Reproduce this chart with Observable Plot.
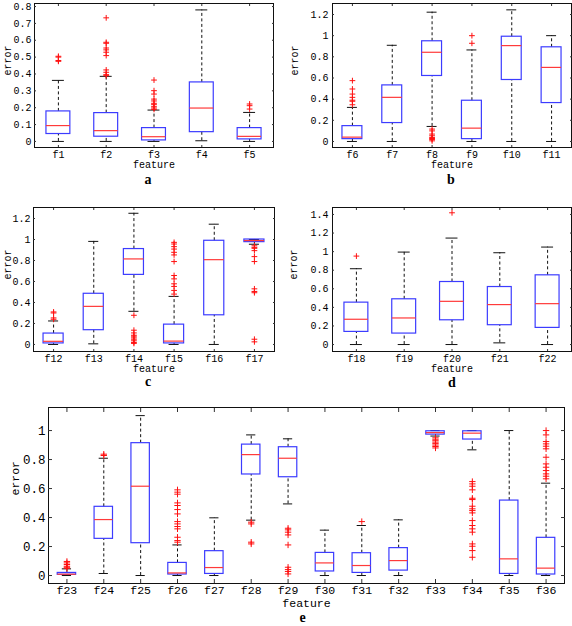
<!DOCTYPE html>
<html><head><meta charset="utf-8">
<script src="https://cdn.jsdelivr.net/npm/d3@7"></script>
<script src="https://cdn.jsdelivr.net/npm/@observablehq/plot@0.6"></script>
<style>
body{margin:0;background:#fff}
#c{position:relative;width:572px;height:626px;background:#fff;overflow:hidden}
#c svg{position:absolute}
</style></head><body><div id="c"></div>
<script>
// ---- Panel a ----
const namesA = ["f1","f2","f3","f4","f5"];
const loA  = [0, 0, 0, 0.004, 0];
const q1A  = [0.044, 0.028, 0.006, 0.055, 0.012];
const medA = [0.094, 0.064, 0.028, 0.198, 0.03];
const q3A  = [0.178, 0.168, 0.079, 0.35, 0.079];
const hiA  = [0.362, 0.386, 0.186, 0.78, 0.172];
const outA = [[0.475,0.48,0.50,0.505],[0.39,0.396,0.41,0.424,0.509,0.529,0.543,0.554,0.582,0.588,0.733],[0.19,0.198,0.206,0.218,0.226,0.24,0.251,0.281,0.301,0.364],[],[0.192,0.212,0.222]];
const ticksA = [0,0.1,0.2,0.3,0.4,0.5,0.6,0.7,0.8];

// ---- Panel b ----
const namesB = ["f6","f7","f8","f9","f10","f11"];
const loB  = [0, 0, 0.142, 0, 0, 0];
const q1B  = [0.022, 0.174, 0.619, 0.022, 0.581, 0.363];
const medB = [0.041, 0.417, 0.843, 0.126, 0.906, 0.70];
const q3B  = [0.145, 0.53, 0.947, 0.385, 0.99, 0.89];
const hiB  = [0.322, 0.909, 1.222, 0.865, 1.244, 1.0];
const outB = [[0.347,0.38,0.39,0.417,0.448,0.496,0.575],[],[0.006,0.019,0.028,0.038,0.054,0.07,0.10,0.117],[0.928,1.0],[],[]];
const ticksB = [0,0.2,0.4,0.6,0.8,1,1.2];

// ---- Panel c ----
const namesC = ["f12","f13","f14","f15","f16","f17"];
const loC  = [0, 0.006, 0.316, 0, 0, 0.955];
const q1C  = [0.01, 0.136, 0.663, 0.01, 0.278, 0.975];
const medC = [0.03, 0.363, 0.815, 0.032, 0.808, 0.99];
const q3C  = [0.104, 0.483, 0.909, 0.189, 0.988, 1.0];
const hiC  = [0.224, 0.982, 1.25, 0.458, 1.146, 1.0];
const outC = [[0.24,0.253,0.30,0.31],[],[0.01,0.019,0.035,0.05,0.063,0.079,0.088,0.11,0.136,0.278],[0.48,0.515,0.553,0.578,0.625,0.657,0.79,0.853,0.878,0.909,0.932,0.957,0.973],[],[0.025,0.05,0.493,0.505,0.53,0.79,0.837,0.894,0.916,0.925,0.94]];
const ticksC = [0,0.2,0.4,0.6,0.8,1,1.2];

// ---- Panel d ----
const namesD = ["f18","f19","f20","f21","f22"];
const loD  = [0, 0, 0, 0.018, 0];
const q1D  = [0.136, 0.118, 0.261, 0.208, 0.179];
const medD = [0.272, 0.286, 0.465, 0.43, 0.44];
const q3D  = [0.451, 0.487, 0.673, 0.619, 0.745];
const hiD  = [0.816, 0.995, 1.146, 0.988, 1.049];
const outD = [[0.952],[],[1.418],[],[]];
const ticksD = [0,0.2,0.4,0.6,0.8,1,1.2,1.4];

// ---- Panel e ----
const namesE = ["f23","f24","f25","f26","f27","f28","f29","f30","f31","f32","f33","f34","f35","f36"];
const loE  = [0, 0.014, 0, 0, 0, 0.382, 0.494, 0, 0, 0, 0.962, 0.867, 0, 0];
const q1E  = [0.005, 0.253, 0.223, 0.007, 0.011, 0.697, 0.678, 0.028, 0.018, 0.034, 0.972, 0.938, 0.011, 0.007];
const medE = [0.009, 0.386, 0.616, 0.018, 0.055, 0.834, 0.809, 0.087, 0.069, 0.103, 0.986, 0.982, 0.115, 0.051];
const q3E  = [0.018, 0.474, 0.913, 0.087, 0.168, 0.903, 0.885, 0.156, 0.154, 0.189, 0.995, 0.995, 0.517, 0.26];
const hiE  = [0.046, 0.809, 1.103, 0.211, 0.398, 0.97, 0.943, 0.313, 0.345, 0.384, 1.0, 1.0, 1.0, 0.637];
const outE = [
  [0.05,0.057,0.064,0.076,0.087,0.097],
  [0.828,0.837],
  [],
  [0.23,0.241,0.264,0.322,0.338,0.356,0.372,0.425,0.455,0.483,0.501,0.561,0.575,0.591],
  [],
  [0.218,0.23,0.356,0.368],
  [0.011,0.028,0.041,0.057,0.211,0.28,0.299,0.315,0.326],
  [],
  [0.372],
  [],
  [0.88,0.89,0.90,0.91,0.92,0.93,0.94,0.95],
  [0.126,0.172,0.202,0.218,0.299,0.322,0.345,0.379,0.432,0.448,0.46,0.478,0.524,0.533,0.591,0.616,0.632,0.648],
  [],
  [0.667,0.685,0.701,0.724,0.747,0.77,0.816,0.874,0.892,0.908,0.924,0.97,1.0]
];
const ticksE = [0,0.2,0.4,0.6,0.8,1];

const container = document.getElementById("c");
const fmtY = d => String(+d.toFixed(2));

function panel(p) {
  const n = p.names.length;
  const boxes = d3.range(n).map(i => ({x: i + 1, lo: p.lo[i], q1: p.q1[i], med: p.med[i], q3: p.q3[i], hi: p.hi[i]}));
  const outs = p.out.flatMap((arr, i) => arr.map(v => ({x: i + 1, y: v})));
  const xt = d3.range(1, n + 1);
  const hw = 0.25, cw = 0.125;
  const mono = "'Liberation Mono', 'DejaVu Sans Mono', monospace";
  const svg = Plot.plot({
    width: p.w, height: p.h,
    marginLeft: p.ml, marginRight: p.mr, marginTop: p.mt, marginBottom: p.mb,
    style: {fontFamily: mono, fontSize: p.fs + "px", background: "white", color: "#000", overflow: "visible"},
    x: {type: "linear", domain: [0.5, n + 0.5]},
    y: {domain: p.yDomain},
    marks: [
      Plot.ruleX(boxes, {x: "x", y1: "q3", y2: "hi", stroke: "#111", strokeDasharray: "3,2.5"}),
      Plot.ruleX(boxes, {x: "x", y1: "lo", y2: "q1", stroke: "#111", strokeDasharray: "3,2.5"}),
      Plot.ruleY(boxes, {y: "hi", x1: d => d.x - cw, x2: d => d.x + cw, stroke: "#111"}),
      Plot.ruleY(boxes, {y: "lo", x1: d => d.x - cw, x2: d => d.x + cw, stroke: "#111"}),
      Plot.rect(boxes, {x1: d => d.x - hw, x2: d => d.x + hw, y1: "q1", y2: "q3", fill: "none", stroke: "#3c3cff", strokeWidth: 1.2}),
      Plot.ruleY(boxes, {y: "med", x1: d => d.x - hw, x2: d => d.x + hw, stroke: "#ff3a3a", strokeWidth: 1.2}),
      Plot.dot(outs, {x: "x", y: "y", symbol: "plus", stroke: "#ff1010", r: p.dr, strokeWidth: 1}),
      Plot.frame({stroke: "#111"}),
      Plot.axisY(p.ticks, {anchor: "left", tickSize: 0, tickPadding: p.typad, tickFormat: fmtY, label: null}),
      Plot.axisY(p.ticks, {anchor: "left", tickSize: -p.tk, fill: "none", label: null, stroke: "#333"}),
      Plot.axisY(p.ticks, {anchor: "right", tickSize: -p.tk, fill: "none", label: null, stroke: "#333"}),
      Plot.axisX(xt, {anchor: "bottom", tickSize: 0, tickPadding: p.txpad, tickFormat: i => p.names[i - 1], label: null, fontSize: p.xfs}),
      Plot.axisX(xt, {anchor: "bottom", tickSize: -p.tk, fill: "none", label: null, stroke: "#333"}),
      Plot.axisX(xt, {anchor: "top", tickSize: -p.tk, fill: "none", label: null, stroke: "#333"}),
      Plot.text(["feature"], {frameAnchor: "bottom", dy: p.fdy, text: d => d, fontSize: p.ffs}),
      Plot.text([p.letter], {frameAnchor: "bottom", dy: p.ldy, dx: p.ldx, text: d => d, fontFamily: "'Liberation Serif', 'DejaVu Serif', serif", fontWeight: "bold", fontSize: p.lfs}),
      Plot.text(["error"], {frameAnchor: "left", dx: p.edx, rotate: -90, text: d => d, fontSize: p.ffs})
    ]
  });
  svg.style.left = p.left + "px";
  svg.style.top = p.top + "px";
  container.appendChild(svg);
}

panel({names: namesA, lo: loA, q1: q1A, med: medA, q3: q3A, hi: hiA, out: outA, ticks: ticksA,
  yDomain: [-0.036, 0.818], letter: "a", left: 0, top: 0, w: 286, h: 195, ml: 34, mr: 13, mt: 3, mb: 48,
  fs: 10, xfs: 10, ffs: 10, typad: 3, txpad: 3, tk: 2, fdy: 20.5, ldy: 36, ldx: -6, lfs: 14, edx: -27, dr: 2});
panel({names: namesB, lo: loB, q1: q1B, med: medB, q3: q3B, hi: hiB, out: outB, ticks: ticksB,
  yDomain: [-0.057, 1.304], letter: "b", left: 286, top: 0, w: 286, h: 195, ml: 46, mr: 1, mt: 3, mb: 48,
  fs: 10, xfs: 10, ffs: 10, typad: 4, txpad: 3, tk: 2, fdy: 20.5, ldy: 36, ldx: -1, lfs: 14, edx: -38, dr: 2});
panel({names: namesC, lo: loC, q1: q1C, med: medC, q3: q3C, hi: hiC, out: outC, ticks: ticksC,
  yDomain: [-0.067, 1.305], letter: "c", left: 0, top: 195, w: 286, h: 200, ml: 33, mr: 12, mt: 12, mb: 44,
  fs: 10, xfs: 10, ffs: 10, typad: 3, txpad: 3, tk: 2, fdy: 20, ldy: 34.5, ldx: -6, lfs: 14, edx: -26, dr: 2});
panel({names: namesD, lo: loD, q1: q1D, med: medD, q3: q3D, hi: hiD, out: outD, ticks: ticksD,
  yDomain: [-0.075, 1.475], letter: "d", left: 286, top: 195, w: 286, h: 200, ml: 46, mr: 1, mt: 12, mb: 44,
  fs: 10, xfs: 10, ffs: 10, typad: 4, txpad: 3, tk: 2, fdy: 20, ldy: 35, ldx: 0, lfs: 14, edx: -39, dr: 2});
panel({names: namesE, lo: loE, q1: q1E, med: medE, q3: q3E, hi: hiE, out: outE, ticks: ticksE,
  yDomain: [-0.055, 1.159], letter: "e", left: 0, top: 395, w: 572, h: 231, ml: 48, mr: 8, mt: 12, mb: 43,
  fs: 12.5, xfs: 11.5, ffs: 11.5, typad: 3, txpad: 2, tk: 4, fdy: 23.5, ldy: 38.5, ldx: -4, lfs: 14, edx: -33, dr: 2.2});
</script>
</body></html>
